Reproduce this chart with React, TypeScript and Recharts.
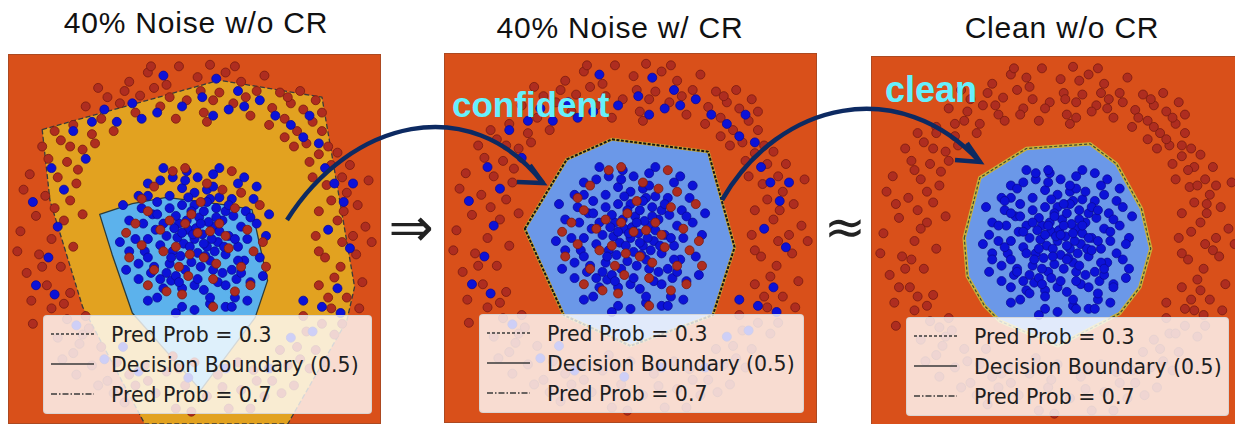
import React from 'react';
import { ScatterChart, Scatter, XAxis, YAxis } from 'recharts';

type P = [number, number];

const titles = ['40% Noise w/o CR', '40% Noise w/ CR', 'Clean w/o CR'];
const legendLabels = ['Pred Prob = 0.3', 'Decision Boundary (0.5)', 'Pred Prob = 0.7'];
const notes = ['confident', 'clean'];

// outer ring, label red in both datasets
const ringKeep: P[] = [
    [-0.42, 1.02], [-0.35, 0.93], [-0.30, 1.08], [-0.22, 0.86], [-0.18, 1.00], [-0.10, 1.12], [-0.05, 0.90], [0.02, 1.05],
    [0.06, 0.82], [0.10, 1.13], [0.16, 0.95], [0.20, 1.08], [0.25, 0.88], [0.30, 1.02], [0.36, 0.80], [0.40, 0.96],
    [0.45, 1.06], [-0.48, 0.88], [-0.12, 0.78], [0.50, 0.85], [0.04, 0.96], [-0.26, 0.98],
    [0.55, 0.95], [0.58, 0.78], [0.62, 0.88], [0.66, 0.70], [0.70, 0.84], [0.72, 0.62], [0.76, 0.76], [0.80, 0.55],
    [0.82, 0.70], [0.86, 0.60], [0.88, 0.48], [0.92, 0.56], [0.64, 0.60], [0.95, 0.40], [0.78, 0.90], [0.68, 0.96],
    [0.98, 0.30], [0.85, 0.35], [1.05, 0.22], [0.80, 0.18], [0.92, 0.12], [1.10, 0.08], [0.78, 0.02], [0.95, -0.02],
    [1.04, -0.10], [0.84, -0.12], [0.90, -0.25], [1.08, -0.28], [0.80, -0.30], [0.98, -0.38], [0.88, -0.45], [1.12, 0.38],
    [0.76, 0.40], [1.00, 0.48],
    [0.82, -0.55], [0.72, -0.60], [0.90, -0.62], [0.66, -0.70], [0.78, -0.72], [0.60, -0.82], [0.74, -0.84], [0.55, -0.72],
    [0.84, -0.80], [0.50, -0.92], [0.64, -0.95], [0.95, -0.55],
    [0.45, -1.02], [0.38, -0.85], [0.30, -0.98], [0.22, -1.10], [0.15, -0.88], [0.08, -1.02], [0.00, -0.80], [-0.06, -0.95],
    [-0.12, -1.10], [-0.18, -0.86], [-0.25, -1.00], [-0.32, -0.82], [-0.38, -0.95], [-0.45, -1.06], [0.28, -0.80], [-0.02, -1.12],
    [-0.50, -0.80], [-0.56, -0.92], [-0.60, -0.70], [-0.66, -0.82], [-0.72, -0.62], [-0.78, -0.74], [-0.82, -0.52], [-0.88, -0.64],
    [-0.70, -0.50], [-0.92, -0.45], [-0.62, -0.95], [-0.85, -0.78],
    [-0.80, -0.35], [-0.95, -0.30], [-1.08, -0.22], [-0.86, -0.18], [-1.00, -0.10], [-0.78, -0.05], [-0.92, 0.00], [-1.12, 0.05],
    [-0.84, 0.12], [-1.02, 0.15], [-0.96, 0.28], [-0.80, 0.25], [-1.10, 0.32], [-0.88, 0.40], [-1.05, -0.40], [-0.76, 0.36],
    [-0.82, 0.50], [-0.94, 0.52], [-0.72, 0.58], [-0.86, 0.64], [-0.66, 0.68], [-0.78, 0.74], [-0.60, 0.78], [-0.70, 0.86],
    [-0.56, 0.92], [-0.64, 0.62], [-0.90, 0.70], [-0.52, 0.70], [-0.75, 0.45],
    [-0.38, 0.82], [0.12, 0.90], [0.33, 0.92], [0.58, 0.66], [0.88, 0.25], [1.02, 0.02], [0.86, -0.38], [0.68, -0.78],
    [0.40, -0.92], [-0.10, -0.84], [-0.42, -0.88], [-0.74, -0.68], [-0.98, -0.18], [-0.90, 0.20], [-0.80, 0.60], [-0.45, 0.96],
    [-0.16, 0.92], [0.26, 1.12], [0.48, 0.74], [0.74, 0.50], [0.96, 0.18], [1.14, -0.02], [0.94, -0.18], [0.70, -0.50],
    [0.56, -1.00], [0.18, -0.96], [-0.30, -0.92], [-0.52, -1.00], [-0.68, -0.58], [-0.84, -0.42], [-1.14, -0.08], [-1.06, 0.42],
    [-0.98, 0.60], [-0.62, 0.98], [-0.28, 1.12], [0.08, 0.76], [0.60, 0.92], [0.82, 0.82], [1.06, -0.45], [0.36, -1.10],
    [-0.14, -0.76], [-0.76, -0.88], [-1.04, -0.55], [-0.72, 0.16], [0.80, -0.08],
];

// outer ring, flipped to blue by the 40% noise
const ringFlip: P[] = [
    [-0.78, 0.70], [-0.70, 0.52], [-0.58, 0.84], [-0.50, 0.76], [-0.40, 0.88], [-0.34, 0.78], [-0.20, 1.06], [-0.08, 0.86],
    [0.05, 0.92], [0.14, 1.04], [0.22, 0.84], [0.32, 0.86], [0.42, 0.90], [0.52, 0.80], [0.62, 0.74], [0.70, 0.66],
    [0.80, 0.62], [0.84, 0.46], [0.90, 0.36], [0.96, 0.24], [0.86, 0.06], [1.00, -0.06], [0.92, -0.32], [0.82, -0.44],
    [0.76, -0.60], [0.62, -0.64], [0.48, -0.84], [0.20, -0.84], [-0.04, -0.90], [-0.36, -0.86], [-0.58, -0.78], [-0.76, -0.56],
    [-0.90, -0.36], [-0.94, -0.12], [-0.88, 0.08], [-1.04, 0.24], [-0.92, 0.46], [-0.66, 0.76], [0.28, 0.96], [-0.24, 0.82],
    [0.74, 0.80], [0.94, -0.48], [-1.02, -0.30], [-0.84, 0.32], [0.12, 0.80], [1.02, 0.36], [0.70, -0.40], [-0.46, -0.70],
];

// inner cluster, label blue in both datasets
const coreKeep: P[] = [
    [0.00, 0.00], [0.05, 0.03], [-0.04, 0.06], [0.08, -0.05], [-0.07, -0.03], [0.02, -0.09], [-0.10, 0.10], [0.12, 0.08],
    [0.15, -0.02], [-0.14, -0.08], [0.03, 0.14], [-0.02, -0.15], [0.10, -0.14], [-0.12, 0.15], [0.18, 0.12], [-0.18, 0.02],
    [0.06, 0.18], [-0.06, -0.20], [0.20, -0.10], [-0.16, -0.16], [0.14, 0.20], [-0.08, 0.22], [0.22, 0.02], [-0.22, -0.04],
    [0.01, 0.07], [-0.03, -0.05], [0.09, 0.11], [-0.11, 0.01], [0.07, -0.11], [-0.05, 0.12], [0.16, 0.05], [-0.15, -0.12],
    [0.04, -0.18], [0.12, -0.20], [-0.20, 0.10], [0.20, 0.18], [0.00, 0.22], [-0.01, 0.03], [0.11, 0.00], [-0.09, -0.11],
    [0.25, 0.15], [0.28, -0.05], [0.24, -0.20], [0.15, -0.28], [0.00, -0.30], [-0.15, -0.27], [-0.26, -0.18], [-0.30, 0.00],
    [-0.27, 0.16], [-0.16, 0.28], [0.00, 0.30], [0.16, 0.27], [0.30, 0.08], [0.32, -0.14], [0.20, -0.30], [0.06, -0.33],
    [-0.08, -0.32], [-0.22, -0.26], [-0.32, -0.08], [-0.33, 0.10], [-0.24, 0.24], [-0.08, 0.33], [0.08, 0.32], [0.24, 0.26],
    [0.34, 0.00], [0.27, -0.26], [-0.28, -0.22], [-0.34, 0.20], [0.10, 0.26], [-0.12, -0.24], [0.26, 0.00], [-0.25, 0.06],
    [0.18, -0.22], [-0.04, 0.27], [0.33, 0.18], [-0.20, -0.32], [0.12, 0.34], [-0.30, 0.28], [0.30, -0.22], [0.02, -0.26],
    [0.40, 0.10], [0.42, -0.12], [0.36, -0.28], [0.26, -0.38], [0.10, -0.42], [-0.08, -0.44], [-0.24, -0.38], [-0.36, -0.26],
    [-0.42, -0.08], [-0.42, 0.12], [-0.36, 0.28], [-0.22, 0.38], [-0.05, 0.44], [0.12, 0.42], [0.28, 0.36], [0.38, 0.26],
    [0.46, 0.02], [0.32, 0.40], [-0.30, 0.36], [-0.44, -0.20], [0.20, -0.44], [-0.14, 0.40], [0.44, -0.24], [-0.38, 0.00],
    [0.02, 0.40], [0.00, -0.46], [-0.46, 0.22], [0.40, 0.34], [-0.30, -0.40], [0.34, -0.40], [0.16, 0.46], [-0.20, 0.46],
    [0.48, 0.16], [-0.48, -0.02], [0.24, -0.44], [-0.12, -0.48],
    [0.04, 0.10], [-0.08, 0.04], [0.13, -0.08], [-0.13, 0.07], [0.06, -0.03], [-0.02, 0.18], [0.19, -0.05], [-0.18, -0.22],
    [0.22, 0.22], [-0.24, 0.16], [0.08, 0.24], [-0.10, -0.28], [0.28, -0.14], [-0.30, -0.12], [0.14, 0.14], [-0.16, 0.20],
    [0.36, 0.14], [-0.36, -0.16], [0.10, -0.38], [-0.06, 0.38],
];

// inner cluster, flipped to red by the 40% noise
const coreFlip: P[] = [
    [0.02, 0.04], [-0.06, 0.10], [0.10, 0.05], [-0.12, -0.05], [0.06, -0.12], [-0.03, -0.10], [0.16, 0.10], [-0.16, 0.12],
    [0.14, -0.16], [-0.10, -0.18], [0.22, -0.06], [-0.22, 0.06], [0.04, 0.24], [-0.04, -0.24], [0.26, 0.20], [-0.26, -0.20],
    [0.30, -0.18], [-0.30, 0.18], [0.18, 0.32], [-0.18, -0.34], [0.34, 0.06], [-0.34, -0.04], [0.08, 0.36], [-0.08, -0.36],
    [0.38, -0.08], [-0.38, 0.10], [0.26, -0.34], [-0.26, 0.34], [0.42, 0.22], [-0.42, -0.12], [0.12, -0.44], [-0.14, 0.44],
    [0.44, -0.02], [-0.44, 0.04], [0.30, 0.30], [-0.30, -0.30], [0.20, 0.02], [-0.02, 0.16], [0.12, -0.26], [-0.20, -0.08],
    [0.36, -0.30], [-0.34, 0.26], [0.46, -0.18], [-0.06, 0.46], [0.24, 0.44],
];

// contour regions
const p1Outer: P[] = [
    [-0.98, 0.71], [0.16, 1.03], [0.82, 0.92], [1.03, -0.31], [0.98, -0.53], [0.60, -1.20],
    [-0.32, -1.20], [-0.72, -0.44], [-0.93, 0.25],
];
const p1Inner: P[] = [
    [-0.61, 0.16], [-0.40, 0.23], [-0.18, 0.27], [0.21, 0.22], [0.37, 0.19], [0.47, -0.27],
    [0.39, -0.51], [0.04, -0.98], [-0.40, -0.48], [-0.53, -0.10],
];
const p2Inner: P[] = [
    [-0.68, 0.06], [-0.41, 0.51], [-0.12, 0.64], [0.50, 0.56], [0.67, -0.06], [0.53, -0.50],
    [0.00, -0.70], [-0.43, -0.50],
];
const p3Inner: P[] = [
    [-0.60, 0.02], [-0.50, 0.41], [-0.20, 0.60], [0.21, 0.63], [0.38, 0.50], [0.54, 0.21],
    [0.60, -0.05], [0.53, -0.30], [0.40, -0.47], [0.00, -0.68], [-0.37, -0.52], [-0.47, -0.42],
    [-0.58, -0.23],
];

const ORANGE = '#d9501a';
const YELLOW = '#e2a220';
const SKY = '#5cb2ec';
const BLUE_REGION = '#6b98e8';
const RED_DOT = '#ae2d20';
const RED_EDGE = '#7a1a10';
const BLUE_DOT = '#0c12d8';
const BLUE_EDGE = '#0a0a98';
const NAVY = '#0d2a62';
const CYAN = '#66f0fc';

const W = 373;
const H = 370;

const xy = (pts: P[]) => pts.map(([x, y]) => ({ x, y }));

interface Stroke { color: string; width: number; dash?: string }
interface Region { pts: P[]; fill: string; strokes: Stroke[] }

const polygonLine = (region: Region) => (props: any) => {
    const d = props.points.map((p: any, i: number) => `${i ? 'L' : 'M'}${p.x},${p.y}`).join(' ') + ' Z';
    return (
        <g>
            <path d={d} fill={region.fill} stroke="none" />
            {region.strokes.map((s, i) => (
                <path key={i} d={d} fill="none" stroke={s.color} strokeWidth={s.width}
                    strokeDasharray={s.dash} strokeLinejoin="round" />
            ))}
        </g>
    );
};

const dot = (fill: string, edge: string) => (props: any) => (
    <circle cx={props.cx} cy={props.cy} r={4.5} fill={fill} stroke={edge} strokeWidth={0.8} />
);

const Empty = () => <g />;

const LegendBox = ({ left, top, width }: { left: number; top: number; width: number }) => (
    <div style={{
        position: 'absolute', left, top, width, height: 99, background: 'rgba(255,255,255,0.8)',
        border: '1px solid rgba(210,210,210,0.8)', borderRadius: 4, boxSizing: 'border-box',
    }}>
        <svg width={width} height={99} style={{ position: 'absolute', left: 0, top: 0 }}>
            {legendLabels.map((label, i) => {
                const y = 18 + i * 30;
                const dash = i === 0 ? '3 2' : i === 2 ? '6 2 1.5 2' : undefined;
                return (
                    <g key={label}>
                        <line x1={7} x2={50} y1={y} y2={y} stroke="#3a3a3a" strokeWidth={1.5} strokeDasharray={dash} />
                        <text x={67} y={y + 7.5} fontFamily="DejaVu Sans, sans-serif" fontSize={20.5} fill="#1e1e1e">{label}</text>
                    </g>
                );
            })}
        </svg>
    </div>
);

const Panel = ({ left, top, regions, noisy, legendW }: {
    left: number; top: number; regions: Region[]; noisy: boolean; legendW: number;
}) => {
    const layers = noisy
        ? [
            { pts: ringKeep, fill: RED_DOT, edge: RED_EDGE },
            { pts: ringFlip, fill: BLUE_DOT, edge: BLUE_EDGE },
            { pts: coreKeep, fill: BLUE_DOT, edge: BLUE_EDGE },
            { pts: coreFlip, fill: RED_DOT, edge: RED_EDGE },
        ]
        : [
            { pts: ringKeep, fill: RED_DOT, edge: RED_EDGE },
            { pts: ringFlip, fill: RED_DOT, edge: RED_EDGE },
            { pts: coreKeep, fill: BLUE_DOT, edge: BLUE_EDGE },
            { pts: coreFlip, fill: BLUE_DOT, edge: BLUE_EDGE },
        ];
    return (
        <div style={{
            position: 'absolute', left, top, width: W, height: H, background: ORANGE,
            boxShadow: 'inset 0 0 0 1px rgba(90,60,50,0.35)', overflow: 'hidden',
        }}>
            <ScatterChart width={W} height={H} margin={{ top: 0, right: 0, bottom: 0, left: 0 }}>
                <XAxis type="number" dataKey="x" domain={[-1.2, 1.2]} hide allowDataOverflow />
                <YAxis type="number" dataKey="y" domain={[-1.2, 1.2]} hide allowDataOverflow />
                {regions.map((r, i) => (
                    <Scatter key={`r${i}`} data={xy(r.pts)} line={polygonLine(r)} lineType="joint"
                        shape={Empty} isAnimationActive={false} />
                ))}
                {layers.map((l, i) => (
                    <Scatter key={`d${i}`} data={xy(l.pts)} shape={dot(l.fill, l.edge)} isAnimationActive={false} />
                ))}
            </ScatterChart>
            <LegendBox left={35} top={261} width={legendW} />
        </div>
    );
};

const panel1: Region[] = [
    { pts: p1Outer, fill: YELLOW, strokes: [{ color: '#3a3a3a', width: 1.3, dash: '5 2.5' }] },
    { pts: p1Inner, fill: SKY, strokes: [{ color: '#2c3c3c', width: 1.3 }] },
];
const panel2: Region[] = [
    { pts: p2Inner, fill: BLUE_REGION, strokes: [{ color: '#c8a83a', width: 3 }, { color: '#151515', width: 2, dash: '3 1.5' }] },
];
const panel3: Region[] = [
    { pts: p3Inner, fill: BLUE_REGION, strokes: [{ color: '#c8b23a', width: 3.5 }, { color: '#3a4838', width: 1.2, dash: '3 2' }] },
];

export default function App() {
    return (
        <div style={{ position: 'absolute', left: 0, top: 0, width: 1235, height: 424, overflow: 'hidden', background: '#fff' }}>
            <Panel left={8} top={54} regions={panel1} noisy legendW={329} />
            <Panel left={444} top={53} regions={panel2} noisy legendW={325} />
            <Panel left={871} top={56} regions={panel3} noisy={false} legendW={323} />
            <svg width={1235} height={424} style={{ position: 'absolute', left: 0, top: 0 }}>
                <g fontFamily="Liberation Sans, Arial, sans-serif" fontSize={30} letterSpacing={0.8} fill="#111" textAnchor="middle">
                    <text x={196} y={33}>{titles[0]}</text>
                    <text x={620} y={38}>{titles[1]}</text>
                    <text x={1062} y={38}>{titles[2]}</text>
                </g>
                <text x={411} y={246} textAnchor="middle" fontFamily="DejaVu Sans, sans-serif" fontSize={54} fill="#222">⇒</text>
                <text x={845} y={244} textAnchor="middle" fontFamily="DejaVu Sans, sans-serif" fontSize={50} fill="#222">≈</text>
                <g fill="none" stroke={NAVY} strokeWidth={4.5} strokeLinecap="butt" strokeLinejoin="miter">
                    <path d="M287,220 C350,120 470,90 543,183" />
                    <path d="M530,165 L543,183 L517,182" />
                    <path d="M722,200 C780,100 900,75 980,162" />
                    <path d="M967,143 L980,162 L955,160" />
                </g>
                <g fontFamily="Liberation Sans, Arial, sans-serif" fontWeight="bold" fill={CYAN}>
                    <text x={452} y={117} fontSize={35}>{notes[0]}</text>
                    <text x={885} y={102} fontSize={36}>{notes[1]}</text>
                </g>
            </svg>
        </div>
    );
}
